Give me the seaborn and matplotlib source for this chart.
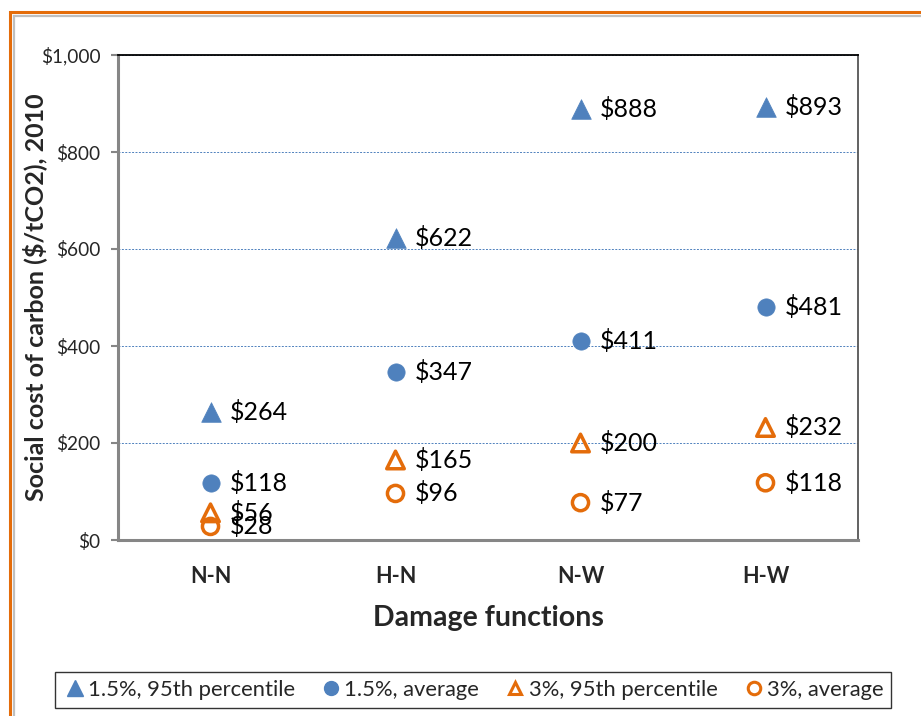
import pandas as pd
import numpy as np
import seaborn as sns
import matplotlib.pyplot as plt
from matplotlib.patches import Rectangle
from matplotlib.lines import Line2D
from matplotlib.ticker import FuncFormatter

functions = ["N-N", "H-N", "N-W", "H-W"]
series_names = ["1.5%, 95th percentile", "1.5%, average", "3%, 95th percentile", "3%, average"]
p95_15 = [264, 622, 888, 893]
avg_15 = [118, 347, 411, 481]
p95_3 = [56, 165, 200, 232]
avg_3 = [28, 96, 77, 118]

blue = "#4F81BD"
orange = "#E46C0A"

sns.set_style("white")
plt.rcParams['font.family'] = ['Lato', 'DejaVu Sans']

fig = plt.figure(figsize=(9.21, 7.16), dpi=100)
ax = fig.add_axes([118 / 921, 1 - 540 / 716, 740 / 921, 485 / 716])

# (values, marker, filled, size)
styles = [
    (p95_15, "^", True, 200),
    (avg_15, "o", True, 155),
    (p95_3, "^", False, 160),
    (avg_3, "o", False, 135),
]

handles = []
for name, (vals, mk, filled, size) in zip(series_names, styles):
    df = pd.DataFrame({"func": functions, "value": vals})
    if filled:
        sns.scatterplot(data=df, x="func", y="value", marker=mk, s=size,
                        color=blue, edgecolor=blue, linewidth=0.5, ax=ax, zorder=3)
        handles.append(Line2D([], [], marker=mk, ls="none", color=blue,
                              markersize=11 if mk == "^" else 10, label=name))
    else:
        sns.scatterplot(data=df, x="func", y="value", marker=mk, s=size,
                        facecolors="none", edgecolor=orange, linewidth=2.5, ax=ax, zorder=3)
        handles.append(Line2D([], [], marker=mk, ls="none", markerfacecolor="none",
                              markeredgecolor=orange, markeredgewidth=2.2,
                              markersize=9, label=name))
    for i, v in enumerate(vals):
        ax.annotate(f"${v}", xy=(i, v), xytext=(14, 0), textcoords="offset points",
                    ha="left", va="center", fontsize=18, color="black", zorder=4)

ax.set_xlim(-0.5, 3.5)
ax.set_ylim(0, 1000)
ax.set_yticks(np.arange(0, 1001, 200))
ax.yaxis.set_major_formatter(FuncFormatter(lambda v, p: f"${v:,.0f}"))
ax.grid(axis="y", color=blue, linestyle=(0, (2, 1.5)), linewidth=0.7)
ax.set_axisbelow(True)

ax.tick_params(axis="y", left=True, length=5, width=1.5, color="#868686",
               labelsize=13.7, pad=7.5)
ax.tick_params(axis="x", bottom=False, length=0, pad=19, labelsize=15.5)
for lbl in ax.get_xticklabels():
    lbl.set_fontweight("bold")

for side in ["left", "bottom"]:
    ax.spines[side].set_color("#868686")
    ax.spines[side].set_linewidth(2.2)
ax.spines["top"].set_color("black")
ax.spines["top"].set_linewidth(1.3)
ax.spines["right"].set_color("#555555")
ax.spines["right"].set_linewidth(1.3)

ax.set_xlabel("Damage functions", fontsize=20.5, fontweight="bold", labelpad=13)
ax.set_ylabel("Social cost of carbon ($/tCO2), 2010", fontsize=18,
              fontweight="bold", labelpad=-4)

leg = fig.legend(handles=handles, loc="center", bbox_to_anchor=(473 / 921, 1 - 690 / 716),
                 ncol=4, frameon=True, fontsize=15.8, handletextpad=0.05,
                 columnspacing=1.1, handlelength=1.1, borderpad=0.35, fancybox=False)
leg.get_frame().set_edgecolor("black")
leg.get_frame().set_linewidth(1.0)

# chart frame
fig.patches.append(Rectangle((10 / 921, -0.2), 1.2, 1 - 12 / 716 + 0.2,
                             transform=fig.transFigure, fill=False,
                             edgecolor=orange, linewidth=2.2))
fig.patches.append(Rectangle((13.5 / 921, -0.2), 1.2, 1 - 15.5 / 716 + 0.2,
                             transform=fig.transFigure, fill=False,
                             edgecolor="#BFBFBF", linewidth=1.6))

fig.savefig("out.png", dpi=100)
